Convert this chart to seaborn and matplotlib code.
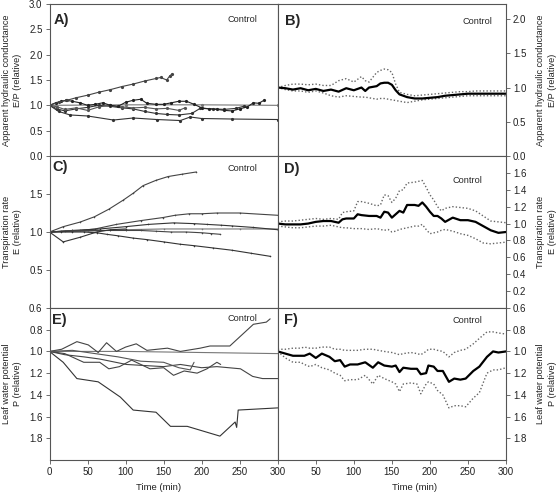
import numpy as np
import pandas as pd
import seaborn as sns
import matplotlib.pyplot as plt

# ---------------- data ----------------
# A) individual plants, apparent hydraulic conductance E/P (relative)
a1_t = [0, 12, 23, 35, 50, 65, 80, 95, 110, 125, 140, 146, 154, 158, 161]
a1_v = [1.00, 1.06, 1.10, 1.15, 1.20, 1.26, 1.31, 1.37, 1.42, 1.48, 1.53, 1.55, 1.50, 1.58, 1.62]
a2_t = [0, 8, 15, 22, 30, 40, 50, 60, 70, 80, 90, 100, 110, 120, 128, 140, 150, 160, 170, 180,
        190, 200, 210, 220, 230, 240, 250, 260, 268, 275, 282]
a2_v = [1.00, 1.05, 1.08, 1.10, 1.08, 1.05, 1.00, 1.02, 1.05, 1.00, 0.98, 1.06, 1.10, 1.12, 1.04,
        1.02, 1.02, 1.05, 1.08, 1.08, 1.02, 0.95, 0.93, 0.92, 0.90, 0.89, 0.93, 0.97, 1.05, 1.04, 1.10]
a3_t = [0, 10, 20, 35, 50, 65, 80, 95, 110, 125, 140, 155, 170, 178]
a3_v = [1.00, 0.97, 0.92, 0.95, 0.90, 0.97, 1.00, 0.97, 0.95, 0.96, 0.93, 0.94, 0.90, 0.95]
a4_t = [0, 10, 20, 35, 50, 65, 80, 95, 110, 125, 140, 155, 170, 187, 198, 215, 230, 245, 255]
a4_v = [1.00, 0.93, 0.89, 0.93, 0.96, 1.00, 0.98, 0.95, 0.93, 0.88, 0.84, 0.82, 0.81, 0.84, 0.94,
        0.93, 0.92, 0.94, 0.98]
a5_t = [0, 12, 27, 50, 84, 110, 141, 172, 185, 200, 240, 300]
a5_v = [1.00, 0.88, 0.81, 0.79, 0.71, 0.75, 0.72, 0.70, 0.77, 0.74, 0.73, 0.72]
a6_t = [0, 100, 200, 300]
a6_v = [1.00, 1.01, 1.01, 1.00]

# B) mean and +/- SE
b_time = [0, 10, 20, 30, 40, 50, 60, 70, 80, 90, 100, 110, 115, 120, 130, 135, 140, 145, 150, 155,
          160, 170, 180, 190, 200, 210, 220, 230, 240, 250, 260, 270, 280, 290, 300]
b_mean = [1.00, 0.99, 0.97, 0.99, 0.96, 0.98, 0.95, 0.97, 0.94, 0.99, 0.96, 1.00, 0.95, 1.00, 1.02,
          1.06, 1.07, 1.07, 1.04, 0.96, 0.90, 0.86, 0.84, 0.84, 0.85, 0.86, 0.88, 0.89, 0.90, 0.91,
          0.91, 0.91, 0.91, 0.91, 0.91]
b_hi = [1.00, 1.03, 1.05, 1.05, 1.04, 1.05, 1.03, 1.03, 1.10, 1.13, 1.08, 1.16, 1.10, 1.08, 1.22,
        1.25, 1.27, 1.26, 1.22, 1.05, 0.93, 0.90, 0.88, 0.89, 0.90, 0.91, 0.92, 0.93, 0.94, 0.94,
        0.95, 0.95, 0.95, 0.95, 0.95]
b_lo = [1.00, 0.97, 0.95, 0.95, 0.93, 0.95, 0.92, 0.88, 0.86, 0.88, 0.87, 0.86, 0.86, 0.85, 0.83,
        0.84, 0.84, 0.83, 0.82, 0.81, 0.80, 0.78, 0.80, 0.82, 0.83, 0.84, 0.85, 0.86, 0.87, 0.88,
        0.88, 0.88, 0.88, 0.88, 0.88]

# C) individual plants, transpiration rate E (relative)
c1_t = [0, 18, 40, 59, 78, 97, 110, 123, 140, 156, 174, 193]
c1_v = [1.00, 1.07, 1.13, 1.20, 1.30, 1.42, 1.51, 1.61, 1.68, 1.73, 1.76, 1.79]
c2_t = [0, 20, 40, 60, 88, 120, 149, 165, 184, 200, 220, 250, 300]
c2_v = [1.00, 1.01, 1.02, 1.04, 1.10, 1.15, 1.19, 1.22, 1.24, 1.24, 1.25, 1.25, 1.22]
c3_t = [0, 30, 66, 100, 130, 163, 190, 207, 225, 240, 268, 300]
c3_v = [1.00, 1.02, 1.04, 1.07, 1.10, 1.12, 1.11, 1.10, 1.09, 1.08, 1.06, 1.03]
c4_t = [0, 50, 100, 150, 200, 250, 300]
c4_v = [1.00, 1.01, 1.03, 1.04, 1.04, 1.04, 1.04]
c5_t = [0, 15, 30, 45, 62, 80, 100, 120, 140, 160, 180, 200, 212, 224]
c5_v = [1.00, 1.01, 1.02, 1.02, 1.02, 1.02, 1.02, 1.02, 1.01, 1.00, 1.00, 0.99, 0.98, 0.97]
c6_t = [0, 18, 40, 62, 80, 100]
c6_v = [1.00, 0.87, 0.93, 1.00, 1.03, 1.04]
c7_t = [0, 15, 30, 45, 62, 75, 90, 110, 128, 150, 171, 190, 215, 240, 265, 290]
c7_v = [1.00, 1.00, 1.00, 1.00, 0.99, 0.97, 0.95, 0.92, 0.90, 0.87, 0.84, 0.82, 0.79, 0.76, 0.72, 0.68]

# D) mean and +/- SE
d_time = [0, 10, 20, 30, 40, 50, 60, 70, 80, 85, 90, 100, 105, 110, 120, 130, 135, 140, 145, 150,
          155, 160, 165, 170, 180, 185, 190, 195, 200, 205, 210, 215, 220, 230, 240, 250, 260, 270,
          280, 290, 300]
d_mean = [1.00, 0.99, 0.99, 0.99, 1.00, 1.02, 1.03, 1.03, 1.01, 1.05, 1.06, 1.06, 1.11, 1.10, 1.09,
          1.09, 1.07, 1.14, 1.13, 1.07, 1.11, 1.15, 1.13, 1.22, 1.22, 1.21, 1.25, 1.20, 1.14, 1.09,
          1.09, 1.06, 1.02, 1.07, 1.04, 1.04, 1.02, 0.97, 0.92, 0.89, 0.90]
d_hi = [1.02, 1.03, 1.03, 1.04, 1.05, 1.06, 1.05, 1.06, 1.05, 1.13, 1.14, 1.15, 1.26, 1.26, 1.24,
        1.21, 1.22, 1.34, 1.33, 1.25, 1.30, 1.39, 1.40, 1.48, 1.49, 1.50, 1.51, 1.43, 1.34, 1.28,
        1.20, 1.15, 1.18, 1.20, 1.19, 1.18, 1.15, 1.09, 1.03, 1.02, 1.01]
d_lo = [0.97, 0.96, 0.95, 0.95, 0.96, 0.97, 0.97, 0.98, 0.96, 0.95, 0.95, 0.94, 0.94, 0.94, 0.93,
        0.94, 0.93, 0.92, 0.93, 0.90, 0.91, 0.93, 0.94, 0.95, 0.97, 0.97, 0.99, 0.93, 0.88, 0.89,
        0.90, 0.92, 0.93, 0.91, 0.88, 0.86, 0.82, 0.77, 0.76, 0.77, 0.78]

# E) individual plants, leaf water potential P (relative)
e1_t = [0, 16, 36, 51, 64, 75, 88, 100, 114, 128, 155, 172, 198, 211, 237, 268, 285, 290]
e1_v = [1.00, 0.98, 0.91, 0.94, 1.01, 0.92, 1.00, 0.96, 0.93, 0.99, 0.97, 1.00, 0.97, 0.95, 0.95,
        0.75, 0.73, 0.70]
e2_t = [0, 100, 200, 300]
e2_v = [1.00, 1.00, 1.01, 1.02]
e3_t = [0, 20, 45, 66, 101, 125, 150, 172, 200, 220, 251, 267, 280, 300]
e3_v = [1.00, 1.03, 1.05, 1.07, 1.12, 1.13, 1.14, 1.12, 1.15, 1.14, 1.16, 1.23, 1.25, 1.25]
e4_t = [0, 20, 45, 66, 78, 92, 108, 132, 150, 163, 177, 194, 207, 220, 225]
e4_v = [1.00, 1.02, 1.10, 1.10, 1.16, 1.14, 1.08, 1.16, 1.15, 1.22, 1.18, 1.20, 1.16, 1.10, 1.12]
e5_t = [0, 30, 60, 90, 120, 150, 170, 185, 190]
e5_v = [1.00, 0.99, 1.02, 1.05, 1.09, 1.10, 1.15, 1.17, 1.10]
e6_t = [0, 18, 36, 64, 93, 110, 140, 159, 181, 224, 244, 246, 248, 300]
e6_v = [1.00, 1.10, 1.25, 1.28, 1.42, 1.54, 1.56, 1.69, 1.69, 1.78, 1.65, 1.70, 1.54, 1.52]

# F) mean and +/- SE
f_time = [0, 10, 20, 30, 35, 42, 50, 58, 68, 75, 82, 88, 95, 105, 115, 125, 132, 140, 150, 155,
          160, 165, 175, 183, 188, 195, 198, 205, 210, 217, 225, 232, 240, 247, 257, 265, 275, 283,
          290, 300]
f_mean = [1.00, 1.02, 1.04, 1.04, 1.04, 1.02, 1.06, 1.02, 1.05, 1.09, 1.08, 1.14, 1.12, 1.12, 1.10,
          1.15, 1.10, 1.13, 1.14, 1.13, 1.19, 1.15, 1.16, 1.16, 1.21, 1.20, 1.13, 1.14, 1.18, 1.18,
          1.28, 1.25, 1.26, 1.25, 1.18, 1.14, 1.05, 1.00, 1.01, 1.00]
f_hi = [0.98, 0.98, 0.97, 0.97, 0.96, 0.97, 0.97, 0.96, 0.96, 0.98, 0.98, 0.99, 0.99, 0.99, 0.98,
        0.98, 0.99, 1.00, 1.01, 1.02, 1.03, 1.02, 1.01, 1.02, 1.03, 1.00, 0.98, 0.98, 0.99, 1.00,
        1.05, 1.01, 0.99, 0.98, 0.93, 0.88, 0.82, 0.82, 0.83, 0.84]
f_lo = [1.00, 1.06, 1.10, 1.10, 1.12, 1.14, 1.12, 1.15, 1.17, 1.20, 1.22, 1.27, 1.26, 1.26, 1.22,
        1.30, 1.22, 1.25, 1.28, 1.30, 1.37, 1.30, 1.29, 1.30, 1.39, 1.30, 1.28, 1.30, 1.36, 1.40,
        1.52, 1.50, 1.50, 1.51, 1.43, 1.38, 1.20, 1.17, 1.17, 1.15]

ylab_k = "Apparent hydraulic conductance\nE/P (relative)"
ylab_e = "Transpiration rate\nE (relative)"
ylab_p = "Leaf water potential\nP (relative)"

# ---------------- figure ----------------
sns.set_style("ticks")
plt.rcParams["font.family"] = ["Liberation Sans", "DejaVu Sans"]
edge = "#555555"

fig, axes = plt.subplots(3, 2, figsize=(5.58, 4.97), dpi=100)
fig.subplots_adjust(left=49.5 / 558, right=506 / 558, top=1 - 4 / 497, bottom=1 - 460 / 497,
                    hspace=0, wspace=0)


def individual(ax, curves, marker):
    for t, v, col in curves:
        sns.lineplot(x=t, y=v, ax=ax, color=col, linewidth=0.8, marker=marker,
                     markersize=2.3 if marker else 0, markeredgewidth=0,
                     errorbar=None, sort=False)


def mean_se(ax, t, m, hi, lo):
    df = pd.DataFrame({"t": t, "mean": m, "hi": hi, "lo": lo})
    sns.lineplot(data=df, x="t", y="hi", ax=ax, color="#666666", linewidth=1.0,
                 linestyle=(0, (1, 1.5)), errorbar=None)
    sns.lineplot(data=df, x="t", y="lo", ax=ax, color="#666666", linewidth=1.0,
                 linestyle=(0, (1, 1.5)), errorbar=None)
    sns.lineplot(data=df, x="t", y="mean", ax=ax, color="black", linewidth=1.6, errorbar=None)


individual(axes[0, 0], [(a6_t, a6_v, "#777777"), (a5_t, a5_v, "#333333"),
                        (a4_t, a4_v, "#333333"), (a3_t, a3_v, "#555555"),
                        (a2_t, a2_v, "#222222"), (a1_t, a1_v, "#444444")], "o")
mean_se(axes[0, 1], b_time, b_mean, b_hi, b_lo)
individual(axes[1, 0], [(c4_t, c4_v, "#777777"), (c2_t, c2_v, "#444444"),
                        (c3_t, c3_v, "#333333"), (c5_t, c5_v, "#444444"),
                        (c6_t, c6_v, "#333333"), (c7_t, c7_v, "#333333"),
                        (c1_t, c1_v, "#444444")], ".")
mean_se(axes[1, 1], d_time, d_mean, d_hi, d_lo)
individual(axes[2, 0], [(e2_t, e2_v, "#777777"), (e1_t, e1_v, "#444444"),
                        (e3_t, e3_v, "#444444"), (e4_t, e4_v, "#444444"),
                        (e5_t, e5_v, "#555555"), (e6_t, e6_v, "#333333")], None)
mean_se(axes[2, 1], f_time, f_mean, f_hi, f_lo)

limits = [[(0, 3.0), (0, 2.22)], [(0, 2.0), (0, 1.8)], [(2.0, 0.6), (2.0, 0.6)]]
yticks = [[[0, 0.5, 1.0, 1.5, 2.0, 2.5, 3.0], [0, 0.5, 1.0, 1.5, 2.0]],
          [[0.5, 1.0, 1.5], [0.2, 0.4, 0.6, 0.8, 1.0, 1.2, 1.4, 1.6]],
          [[0.6, 0.8, 1.0, 1.2, 1.4, 1.6, 1.8], [0.6, 0.8, 1.0, 1.2, 1.4, 1.6, 1.8]]]
ylabels = [ylab_k, ylab_e, ylab_p]
letters = [["A)", "B)"], ["C)", "D)"], ["E)", "F)"]]
letter_pos = [[(0.018, 0.895), (0.03, 0.888)], [(0.013, 0.928), (0.026, 0.915)],
              [(0.013, 0.92), (0.026, 0.92)]]
control_pos = [[(0.846, 0.895), (0.873, 0.888)], [(0.846, 0.92), (0.83, 0.84)],
               [(0.846, 0.93), (0.83, 0.92)]]

for r in range(3):
    for c in range(2):
        ax = axes[r, c]
        ax.set_xlim(0, 300)
        ax.set_ylim(*limits[r][c])
        ax.set_yticks(yticks[r][c])
        ax.set_yticklabels([f"{v:.1f}" for v in yticks[r][c]])
        ax.set_xlabel("")
        ax.set_ylabel(ylabels[r], fontsize=6.6, linespacing=1.35, color="#222222")
        for s in ax.spines.values():
            s.set_visible(True)
            s.set_color(edge)
            s.set_linewidth(0.8)
        ax.tick_params(direction="out", length=3, width=0.6, color=edge,
                       labelsize=7, pad=2, labelcolor="#222222")
        if c == 1:
            ax.yaxis.tick_right()
            ax.yaxis.set_label_position("right")
            ax.yaxis.set_label_coords(1.178, 0.5)
        else:
            ax.yaxis.set_label_coords(-0.164, 0.5)
        ax.yaxis.label.set_va("center")
        if r < 2:
            ax.tick_params(axis="x", bottom=False, labelbottom=False)
        else:
            ax.set_xticks([0, 50, 100, 150, 200, 250, 300] if c == 0 else [50, 100, 150, 200, 250, 300])
            ax.set_xlabel("Time (min)", fontsize=6.8, color="#222222")
            ax.xaxis.set_label_coords(0.48 if c == 0 else 0.6, -0.15)
        lx, ly = letter_pos[r][c]
        ax.text(lx, ly, letters[r][c], transform=ax.transAxes, fontsize=10.5,
                fontweight="bold", va="center", ha="left")
        cx, cy = control_pos[r][c]
        ax.text(cx, cy, "Control", transform=ax.transAxes, fontsize=6.6,
                va="center", ha="center")

fig.savefig("out.png", dpi=100)
